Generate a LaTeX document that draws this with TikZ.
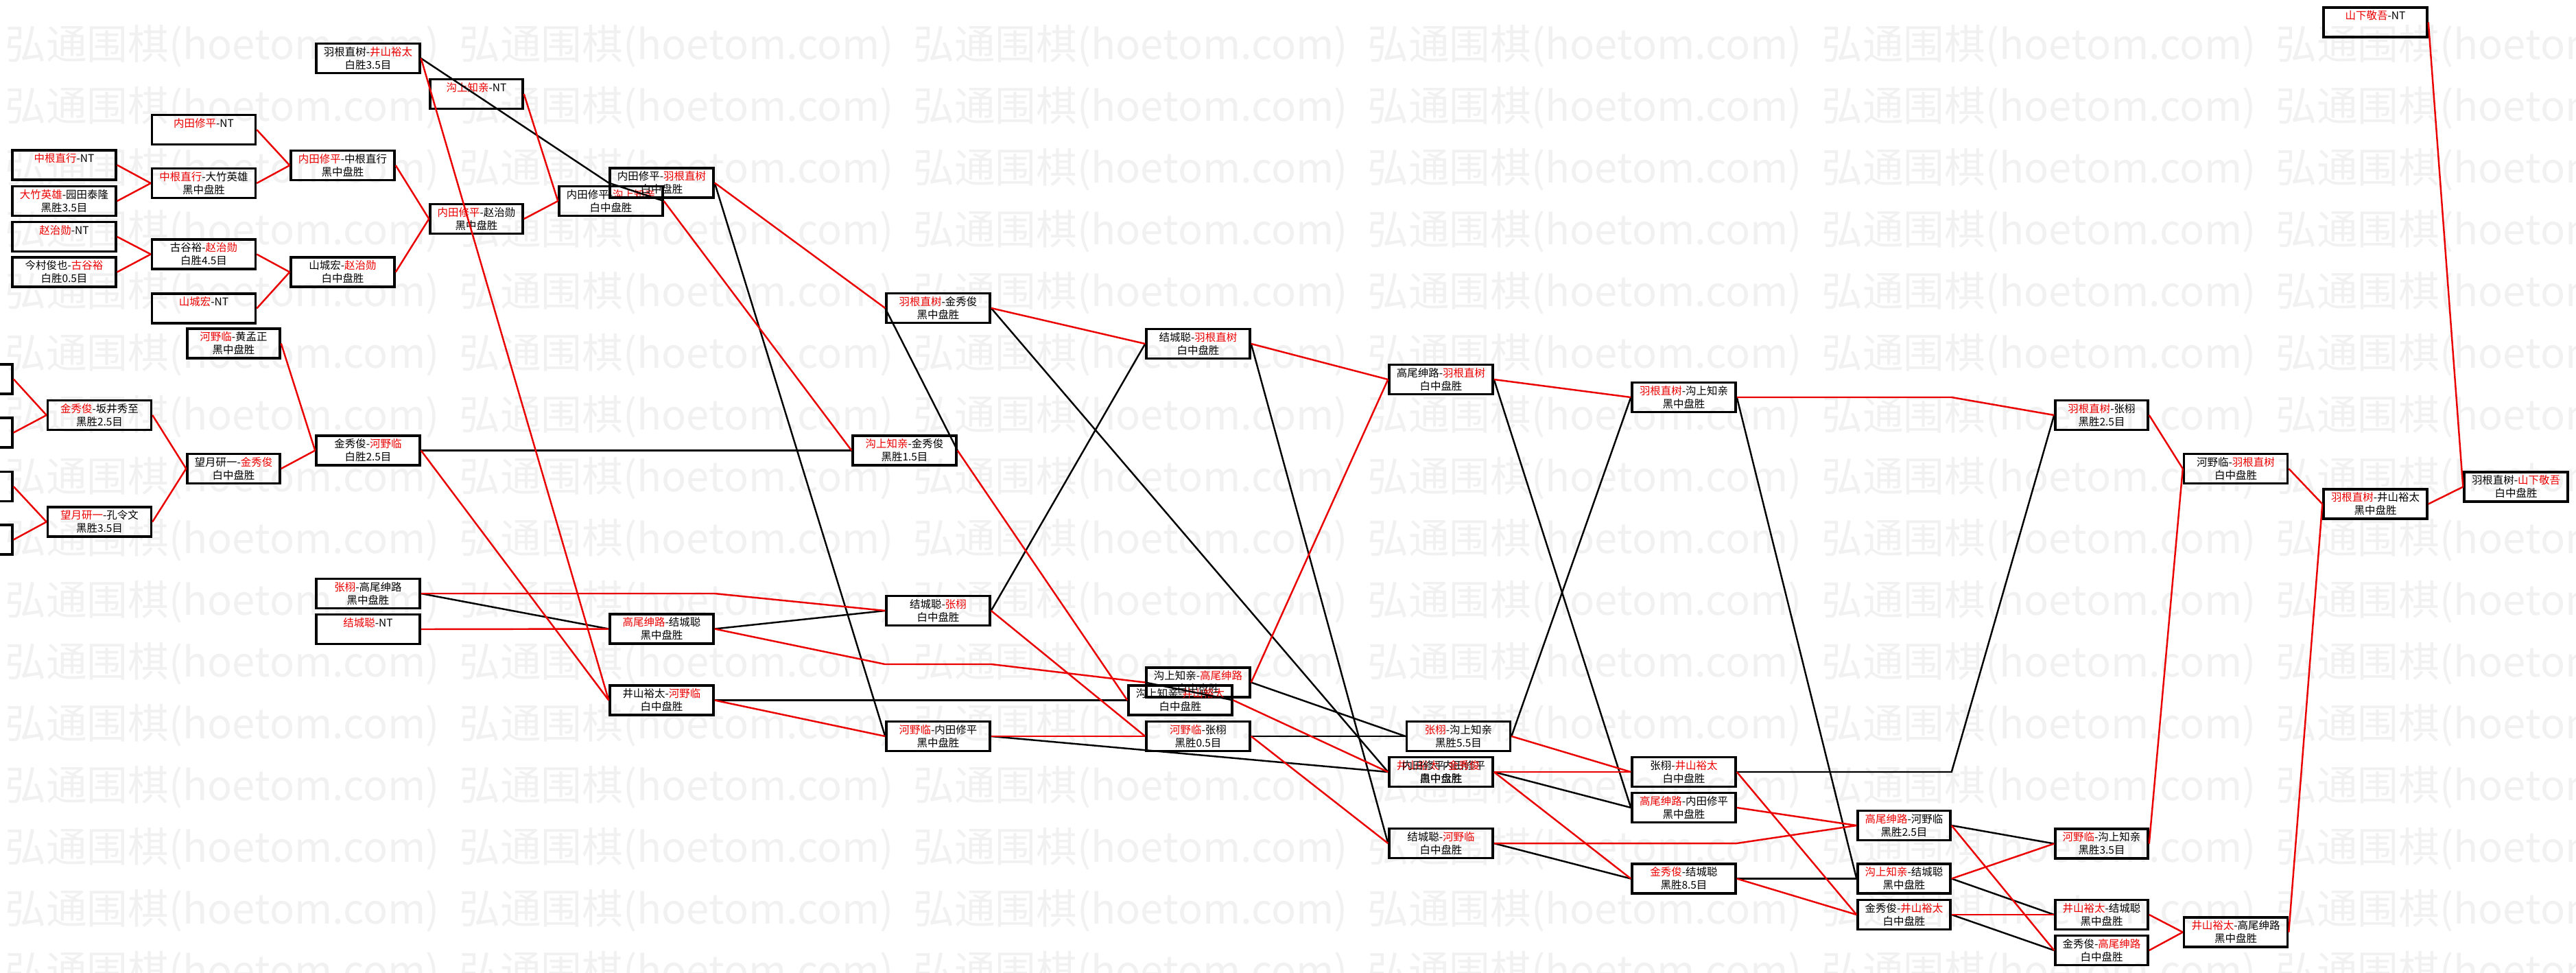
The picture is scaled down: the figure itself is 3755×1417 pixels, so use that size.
\documentclass[tikz,border=0pt]{standalone}
\usepackage{fontspec}
\setmainfont{Noto Sans CJK SC}
\definecolor{winred}{RGB}{235,0,0}
\definecolor{wmgray}{RGB}{241,241,241}
\newcommand{\rd}[1]{\textcolor{winred}{#1}}
\newcommand{\nt}{-NT\\\phantom{黑}}

\begin{document}
\begin{tikzpicture}[
    x=0.02cm, y=-0.02cm,
    box/.style={draw, line width=2pt, minimum width=3.02cm, minimum height=0.86cm,
                inner sep=0pt, align=center, font=\fontsize{8.8}{10.8}\selectfont},
    narrow/.style={box, minimum width=2.7cm},
    win/.style={draw=winred, line width=1.4pt},
    lose/.style={draw=black, line width=1.4pt},
    wm/.style={anchor=west, inner sep=0pt, text=wmgray, font=\fontsize{34}{34}\selectfont},
]
\useasboundingbox (0,0) rectangle (3755,1417);
\clip (0,0) rectangle (3755,1417);

% watermark
\foreach \r in {0,...,15}{
  \foreach \c in {0,...,5}{
    \node[wm] (wm-\r-\c) at (7+662*\c,67+90*\r) {弘通围棋(hoetom.com)};
  }
}

% first rounds
\node[box] (p1) at (-57.5,552.5) {};
\node[box] (p2) at (-57.5,630.5) {};
\node[box] (p3) at (-57.5,709) {};
\node[box] (p4) at (-57.5,786.5) {};

\node[box] (zgnt) at (93.5,240.5) {\rd{中根直行}\nt};
\node[box] (dz)   at (93.5,293)   {\rd{大竹英雄}-园田泰隆\\黑胜3.5目};
\node[box] (zznt) at (93.5,345)   {\rd{赵治勋}\nt};
\node[box] (jc)   at (93.5,396.5) {今村俊也-\rd{古谷裕}\\白胜0.5目};

\node[box] (ntnt) at (297,189)   {\rd{内田修平}\nt};
\node[box] (zgdz) at (297,267)   {\rd{中根直行}-大竹英雄\\黑中盘胜};
\node[box] (gyzz) at (297,370.5) {古谷裕-\rd{赵治勋}\\白胜4.5目};
\node[box] (scnt) at (297,449.5) {\rd{山城宏}\nt};

\node[box] (jsbj) at (145,605)   {\rd{金秀俊}-坂井秀至\\黑胜2.5目};
\node[box] (wykl) at (145,760.5) {\rd{望月研一}-孔令文\\黑胜3.5目};

\node[box] (ntzg) at (499.5,241)   {\rd{内田修平}-中根直行\\黑中盘胜};
\node[box] (sczz) at (499.5,396.5) {山城宏-\rd{赵治勋}\\白中盘胜};

\node[narrow] (hyhm) at (340.5,500.5) {\rd{河野临}-黄孟正\\黑中盘胜};
\node[narrow] (wyjs) at (340.5,683)   {望月研一-\rd{金秀俊}\\白中盘胜};

\node[box] (ysjs) at (536.5,85)    {羽根直树-\rd{井山裕太}\\白胜3.5目};
\node[box] (jshy) at (536.5,656.5) {金秀俊-\rd{河野临}\\白胜2.5目};
\node[box] (zxgw) at (536.5,865)   {\rd{张栩}-高尾绅路\\黑中盘胜};
\node[box] (jcnt) at (536.5,917)   {\rd{结城聪}\nt};

\node[narrow] (gsnt) at (694.5,137) {\rd{沟上知亲}\nt};
\node[narrow] (ntzz) at (694.5,319) {\rd{内田修平}-赵治勋\\黑中盘胜};

\node[box] (ntgs) at (890.5,293) {内田修平-\rd{沟上知亲}\\白中盘胜};

\node[box] (ntys) at (964.5,266.5)  {内田修平-\rd{羽根直树}\\白中盘胜};
\node[box] (gwjc) at (964.5,916.5)  {\rd{高尾绅路}-结城聪\\黑中盘胜};
\node[box] (yshy) at (964.5,1020.5) {井山裕太-\rd{河野临}\\白中盘胜};

% middle rounds
\node[box] (ysjx) at (1367.5,449)  {\rd{羽根直树}-金秀俊\\黑中盘胜};
\node[box] (jczx) at (1367.5,890)  {结城聪-\rd{张栩}\\白中盘胜};
\node[box] (hynt) at (1367.5,1073) {\rd{河野临}-内田修平\\黑中盘胜};
\node[box] (gsjx) at (1318.5,656.5) {\rd{沟上知亲}-金秀俊\\黑胜1.5目};

\node[box] (jcys) at (1746.5,501)   {结城聪-\rd{羽根直树}\\白中盘胜};
\node[box] (gsgw) at (1746.5,994.5) {沟上知亲-\rd{高尾绅路}\\白中盘胜};
\node[box] (hyzx) at (1746.5,1073)  {\rd{河野临}-张栩\\黑胜0.5目};
\node[box] (gsjs) at (1720.5,1020.5) {沟上知亲-\rd{井山裕太}\\白中盘胜};

\node[box] (gwys) at (2100.5,553)  {高尾绅路-\rd{羽根直树}\\白中盘胜};
\node[box] (ova)  at (2100.5,1125) {\rd{井山裕太}-内田修平\\黑中盘胜};
\node[box] (ovb)  at (2100.5,1125) {内田修平-\rd{金秀俊}\\白中盘胜};
\node[box] (jchy) at (2100.5,1229) {结城聪-\rd{河野临}\\白中盘胜};
\node[box] (zxgs) at (2126,1073)   {\rd{张栩}-沟上知亲\\黑胜5.5目};

\node[box] (ysgs) at (2454.5,579)    {\rd{羽根直树}-沟上知亲\\黑中盘胜};
\node[box] (zxjs) at (2454.5,1125)   {张栩-\rd{井山裕太}\\白中盘胜};
\node[box] (gwnt) at (2454.5,1177)   {\rd{高尾绅路}-内田修平\\黑中盘胜};
\node[box] (jxjc) at (2454.5,1280.5) {\rd{金秀俊}-结城聪\\黑胜8.5目};

% last rounds
\node[narrow] (gwhy) at (2775.5,1203)   {\rd{高尾绅路}-河野临\\黑胜2.5目};
\node[narrow] (gsjc) at (2775.5,1280.5) {\rd{沟上知亲}-结城聪\\黑中盘胜};
\node[narrow] (jxys) at (2775.5,1333)   {金秀俊-\rd{井山裕太}\\白中盘胜};

\node[narrow] (yszx) at (3063.5,605)    {\rd{羽根直树}-张栩\\黑胜2.5目};
\node[narrow] (hygs) at (3063.5,1229.5) {\rd{河野临}-沟上知亲\\黑胜3.5目};
\node[narrow] (ysjc) at (3063.5,1333)   {\rd{井山裕太}-结城聪\\黑中盘胜};
\node[narrow] (jxgw) at (3063.5,1385)   {金秀俊-\rd{高尾绅路}\\白中盘胜};

\node[box] (hyys) at (3259,683)    {河野临-\rd{羽根直树}\\白中盘胜};
\node[box] (ysgw) at (3259,1358.5) {\rd{井山裕太}-高尾绅路\\黑中盘胜};

\node[box] (ysys) at (3462.5,734.5) {\rd{羽根直树}-井山裕太\\黑中盘胜};
\node[box] (ysnt) at (3462.5,32.5)  {\rd{山下敬吾}\nt};

\node[box] (ysxs) at (3667.5,709.5) {羽根直树-\rd{山下敬吾}\\白中盘胜};

% losers
\draw[lose] (ysjs.east) -- (ntys.west);
\draw[lose] (ntgs.east) -- (ntys.west);
\draw[lose] (jshy.east) -- (gsjx.west);
\draw[lose] (ntys.east) -- (hynt.west);
\draw[lose] (zxgw.east) -- (gwjc.west);
\draw[lose] (gwjc.east) -- (jczx.west);
\draw[lose] (yshy.east) -- (gsjs.west);
\draw[lose] (gsjx.east) -- (ysjx.west);
\draw[lose] (ysjx.east) -- (ova.west);
\draw[lose] (jczx.east) -- (jcys.west);
\draw[lose] (hynt.east) -- (ova.west);
\draw[lose] (jcys.east) -- (jchy.west);
\draw[lose] (gsjs.east) -- (gsgw.west);
\draw[lose] (gsgw.east) -- (zxgs.west);
\draw[lose] (hyzx.east) -- (zxgs.west);
\draw[lose] (gwys.east) -- (gwnt.west);
\draw[lose] (zxgs.east) -- (ysgs.west);
\draw[lose] (ova.east) -- (gwnt.west);
\draw[lose] (jchy.east) -- (jxjc.west);
\draw[lose] (ysgs.east) -- (gsjc.west);
\draw[lose] (zxjs.east) -- (zxjs.east -| gwhy.east) -- (yszx.west);
\draw[lose] (jxjc.east) -- (gsjc.west);
\draw[lose] (gwhy.east) -- (hygs.west);
\draw[lose] (gsjc.east) -- (ysjc.west);
\draw[lose] (jxys.east) -- (jxgw.west);

% winners
\draw[win] (zgnt.east) -- (zgdz.west);
\draw[win] (dz.east) -- (zgdz.west);
\draw[win] (zznt.east) -- (gyzz.west);
\draw[win] (jc.east) -- (gyzz.west);
\draw[win] (ntnt.east) -- (ntzg.west);
\draw[win] (zgdz.east) -- (ntzg.west);
\draw[win] (gyzz.east) -- (sczz.west);
\draw[win] (scnt.east) -- (sczz.west);
\draw[win] (ntzg.east) -- (ntzz.west);
\draw[win] (sczz.east) -- (ntzz.west);
\draw[win] (p1.east) -- (jsbj.west);
\draw[win] (p2.east) -- (jsbj.west);
\draw[win] (p3.east) -- (wykl.west);
\draw[win] (p4.east) -- (wykl.west);
\draw[win] (jsbj.east) -- (wyjs.west);
\draw[win] (wykl.east) -- (wyjs.west);
\draw[win] (hyhm.east) -- (jshy.west);
\draw[win] (wyjs.east) -- (jshy.west);
\draw[win] (gsnt.east) -- (ntgs.west);
\draw[win] (ntzz.east) -- (ntgs.west);
\draw[win] (ysjs.east) -- (yshy.west);
\draw[win] (jshy.east) -- (yshy.west);
\draw[win] (ntgs.east) -- (gsjx.west);
\draw[win] (ntys.east) -- (ysjx.west);
\draw[win] (zxgw.east) -- (zxgw.east -| gwjc.east) -- (jczx.west);
\draw[win] (jcnt.east) -- (gwjc.west);
\draw[win] (gwjc.east) -- (1290,968) -- (1445,968) -- (gsgw.west);
\draw[win] (yshy.east) -- (hynt.west);
\draw[win] (ysjx.east) -- (jcys.west);
\draw[win] (jczx.east) -- (hyzx.west);
\draw[win] (hynt.east) -- (hyzx.west);
\draw[win] (gsjx.east) -- (gsjs.west);
\draw[win] (jcys.east) -- (gwys.west);
\draw[win] (gsgw.east) -- (gwys.west);
\draw[win] (hyzx.east) -- (jchy.west);
\draw[win] (gsjs.east) -- (ova.west);
\draw[win] (gwys.east) -- (ysgs.west);
\draw[win] (zxgs.east) -- (zxjs.west);
\draw[win] (ova.east) -- (zxjs.west);
\draw[win] (ovb.east) -- (jxjc.west);
\draw[win] (jchy.east) -- (jchy.east -| jxjc.east) -- (gwhy.west);
\draw[win] (gwnt.east) -- (gwhy.west);
\draw[win] (ysgs.east) -- (ysgs.east -| gwhy.east) -- (yszx.west);
\draw[win] (zxjs.east) -- (jxys.west);
\draw[win] (jxjc.east) -- (jxys.west);
\draw[win] (gwhy.east) -- (jxgw.west);
\draw[win] (gsjc.east) -- (hygs.west);
\draw[win] (jxys.east) -- (ysjc.west);
\draw[win] (yszx.east) -- (hyys.west);
\draw[win] (hygs.east) -- (hyys.west);
\draw[win] (ysjc.east) -- (ysgw.west);
\draw[win] (jxgw.east) -- (ysgw.west);
\draw[win] (hyys.east) -- (ysys.west);
\draw[win] (ysgw.east) -- (ysys.west);
\draw[win] (ysys.east) -- (ysxs.west);
\draw[win] (ysnt.east) -- (ysxs.west);
\end{tikzpicture}
\end{document}
